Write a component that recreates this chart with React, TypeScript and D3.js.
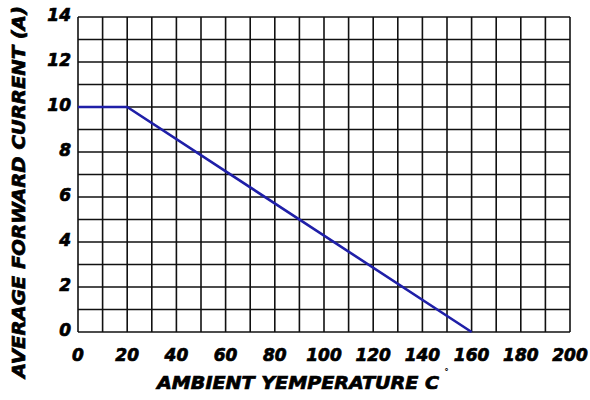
import React from "react";
import * as d3 from "d3";

const xTicks = [0, 20, 40, 60, 80, 100, 120, 140, 160, 180, 200];
const yTicks = [0, 2, 4, 6, 8, 10, 12, 14];
const curveTemp = [0, 20, 160];
const curveCurrent = [10, 10, 0];
const xTitle = "AMBIENT YEMPERATURE C";
const yTitle = "AVERAGE FORWARD CURRENT (A)";

const W = 590, H = 400;
const L = 78, R = 570, T = 17, B = 332;

export default function App() {
  const x = d3.scaleLinear().domain([0, 200]).range([L, R]);
  const y = d3.scaleLinear().domain([0, 14]).range([B, T]);
  const vGrid = d3.range(0, 201, 10);
  const hGrid = d3.range(0, 15, 1);
  const pts = curveTemp.map((t, i) => [t, curveCurrent[i]] as [number, number]);
  const line = d3.line<[number, number]>().x(d => x(d[0])).y(d => y(d[1]));
  const font = "'DejaVu Sans', 'Liberation Sans', sans-serif";
  return (
    <svg width={W} height={H} style={{ position: "absolute", left: 0, top: 0, background: "#fff" }}>
      <rect x={0} y={0} width={W} height={H} fill="#fff" />
      <g stroke="#111" strokeWidth={1.6}>
        {vGrid.map(v => (
          <line key={"v" + v} x1={x(v)} x2={x(v)} y1={T} y2={B} />
        ))}
        {hGrid.map(v => (
          <line key={"h" + v} x1={L} x2={R} y1={y(v)} y2={y(v)} />
        ))}
      </g>
      <path d={line(pts) || ""} fill="none" stroke="#1f1fa8" strokeWidth={2.6} />
      <g fontFamily={font} fontWeight="bold" fontStyle="italic" fontSize={17} fill="#000" stroke="#000" strokeWidth={0.7}>
        {xTicks.map(v => (
          <text key={"xt" + v} x={x(v)} y={361} textAnchor="middle">{v}</text>
        ))}
        {yTicks.map(v => (
          <text key={"yt" + v} x={71} y={y(v) + 4} textAnchor="end">{v}</text>
        ))}
      </g>
      <g fontFamily={font} fontWeight="bold" fontStyle="italic" fill="#000" stroke="#000" strokeWidth={0.7}>
        <text x={157} y={389} fontSize={17} textLength={282} lengthAdjust="spacingAndGlyphs">{xTitle}</text>
        <text transform="translate(25,378) rotate(-90)" fontSize={17} textLength={372} lengthAdjust="spacingAndGlyphs">{yTitle}</text>
      </g>
      <text x={444} y={377} fontFamily={font} fontWeight="bold" fontSize={10}>˚</text>
    </svg>
  );
}
